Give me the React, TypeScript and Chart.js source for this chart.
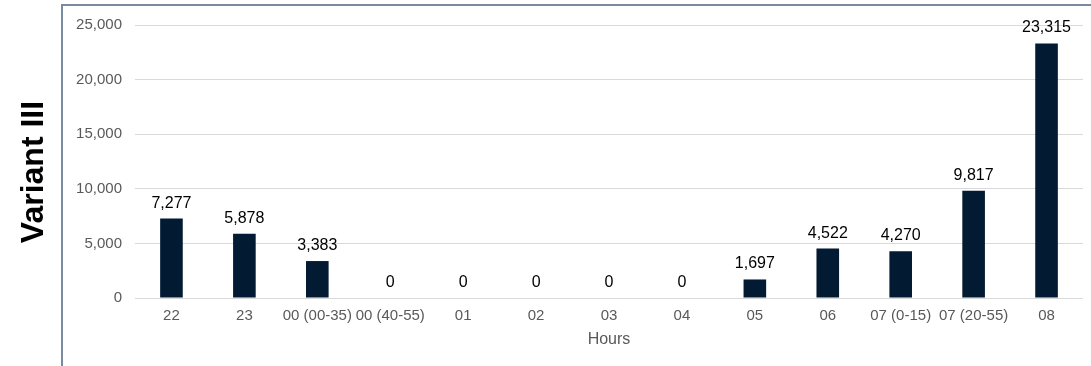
import React, { useEffect, useRef } from "react";
import { Chart, registerables } from "chart.js";

Chart.register(...registerables);

const categories = [
  "22", "23", "00 (00-35)", "00 (40-55)", "01", "02", "03", "04", "05", "06",
  "07 (0-15)", "07 (20-55)", "08",
];
const values = [7277, 5878, 3383, 0, 0, 0, 0, 0, 1697, 4522, 4270, 9817, 23315];
const yTicks = [0, 5000, 10000, 15000, 20000, 25000];
const seriesLabel = "Variant III";
const xTitle = "Hours";

const FONT = "'Liberation Sans', Arial, sans-serif";
const fmt = (v: number) => v.toLocaleString("en-US");

const framePlugin = {
  id: "frameAndSideTitle",
  beforeDraw(chart: any) {
    const { ctx, width, height } = chart;
    ctx.save();
    ctx.fillStyle = "#ffffff";
    ctx.fillRect(0, 0, width, height);
    ctx.strokeStyle = "#7a8aa0";
    ctx.lineWidth = 2;
    ctx.beginPath();
    ctx.moveTo(62, height + 2);
    ctx.lineTo(62, 5);
    ctx.lineTo(width + 2, 5);
    ctx.stroke();
    ctx.translate(34, 172);
    ctx.rotate(-Math.PI / 2);
    ctx.fillStyle = "#000000";
    ctx.font = `bold 32px ${FONT}`;
    ctx.textAlign = "center";
    ctx.textBaseline = "middle";
    ctx.fillText(seriesLabel, 0, 0);
    ctx.restore();
  },
};

const valueLabelPlugin = {
  id: "valueLabels",
  afterDatasetsDraw(chart: any) {
    const { ctx } = chart;
    const meta = chart.getDatasetMeta(0);
    ctx.save();
    ctx.fillStyle = "#000000";
    ctx.font = `16px ${FONT}`;
    ctx.textAlign = "center";
    ctx.textBaseline = "alphabetic";
    meta.data.forEach((bar: any, i: number) => {
      const v = chart.data.datasets[0].data[i] as number;
      ctx.fillText(fmt(v), bar.x, bar.y - 11);
    });
    ctx.restore();
  },
};

export default function App() {
  const ref = useRef<HTMLCanvasElement | null>(null);
  useEffect(() => {
    if (!ref.current) return;
    const chart = new Chart(ref.current, {
      type: "bar",
      data: {
        labels: categories,
        datasets: [
          {
            label: seriesLabel,
            data: values,
            backgroundColor: "#021a32",
            borderWidth: 0,
            barPercentage: 0.31,
            categoryPercentage: 1,
          },
        ],
      },
      options: {
        animation: false,
        responsive: true,
        maintainAspectRatio: false,
        layout: { padding: { left: 62, top: 25, right: 8, bottom: 0 } },
        plugins: {
          legend: { display: false },
          tooltip: { enabled: false },
        },
        scales: {
          x: {
            grid: { display: false, drawTicks: false },
            border: { display: false },
            ticks: {
              color: "#595959",
              font: { family: FONT, size: 15 },
              padding: 9,
              maxRotation: 0,
              autoSkip: false,
            },
            title: {
              display: true,
              text: xTitle,
              color: "#595959",
              font: { family: FONT, size: 16 },
              padding: { top: 0, bottom: 17 },
            },
            afterFit: (scale: any) => {
              scale.height = 68;
            },
          },
          y: {
            min: 0,
            max: 25000,
            grid: { color: "#d9d9d9", lineWidth: 1, drawTicks: false },
            border: { display: false },
            afterBuildTicks: (scale: any) => {
              scale.ticks = yTicks.map((v) => ({ value: v }));
            },
            ticks: {
              color: "#595959",
              font: { family: FONT, size: 15 },
              padding: 13,
              callback: (v: any) => fmt(Number(v)),
            },
            afterFit: (scale: any) => {
              scale.width = 73;
            },
          },
        },
      },
      plugins: [framePlugin, valueLabelPlugin],
    });
    return () => chart.destroy();
  }, []);

  return (
    <div
      style={{
        position: "fixed",
        left: 0,
        top: 0,
        width: 1091,
        height: 366,
        overflow: "hidden",
        background: "#fff",
      }}
    >
      <canvas ref={ref} />
    </div>
  );
}
